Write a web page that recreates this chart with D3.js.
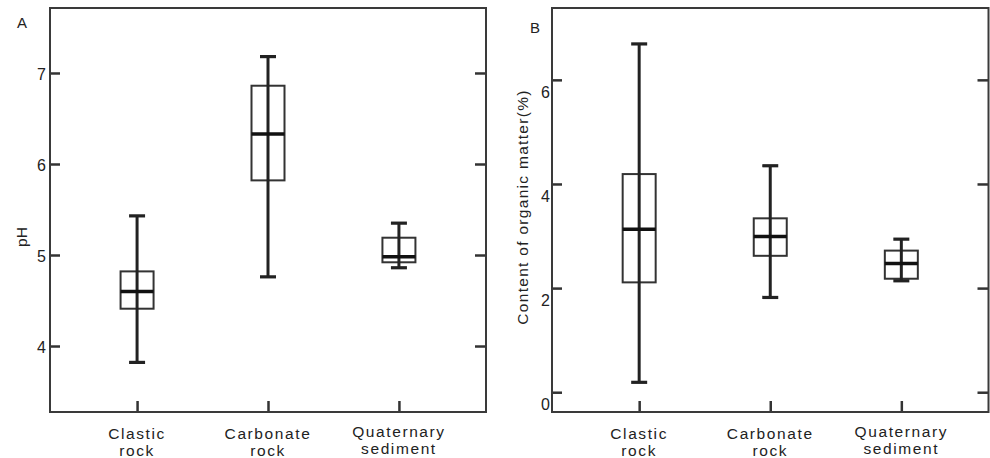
<!DOCTYPE html>
<html>
<head>
<meta charset="utf-8">
<script src="https://cdn.jsdelivr.net/npm/d3@7"></script>
<style>
  html, body { margin: 0; padding: 0; background: #fff; }
  svg { display: block; font-family: "Liberation Sans", Arial, sans-serif; }
</style>
</head>
<body>
<svg id="chart" width="990" height="458"></svg>
<script>
// ---- data ----
const categories = ["Clastic rock", "Carbonate rock", "Quaternary sediment"];
const categoryLines = [["Clastic", "rock"], ["Carbonate", "rock"], ["Quaternary", "sediment"]];

// Panel A: pH
const phMin    = [3.82, 4.76, 4.86];
const phQ1     = [4.41, 5.82, 4.92];
const phMedian = [4.60, 6.33, 4.98];
const phQ3     = [4.82, 6.86, 5.19];
const phMax    = [5.43, 7.18, 5.35];
const phTicks  = [4, 5, 6, 7];

// Panel B: content of organic matter (%)
const omMin    = [0.19, 1.82, 2.14];
const omQ1     = [2.11, 2.62, 2.18];
const omMedian = [3.13, 2.99, 2.47];
const omQ3     = [4.19, 3.34, 2.72];
const omMax    = [6.69, 4.35, 2.94];
const omTicks  = [0, 2, 4, 6];

const svg = d3.select("#chart");
const dark = "#222";

function panel(opt) {
  const g = svg.append("g");
  const x = d3.scalePoint().domain(categories).range([opt.left, opt.right]).padding(0.665);
  const y = d3.scaleLinear().domain(opt.domain).range([opt.bottom, opt.top]);

  const rows = categories.map((c, i) => ({
    c, lines: categoryLines[i],
    min: opt.min[i], q1: opt.q1[i], med: opt.med[i], q3: opt.q3[i], max: opt.max[i]
  }));

  // left axis (ticks inward, labels outside)
  const la = g.append("g").attr("transform", `translate(${opt.left},0)`)
    .call(d3.axisLeft(y).tickValues(opt.ticks).tickSize(-10).tickPadding(opt.labelPad).tickFormat(d3.format("d")));
  la.select(".domain").remove();
  la.selectAll(".tick line").attr("stroke", "#333").attr("stroke-width", 2.5);
  la.selectAll(".tick text").attr("font-size", 16).attr("fill", "#222")
    .attr("font-family", "Liberation Sans, Arial, sans-serif").attr("dy", opt.labelDy);

  // right axis ticks
  const ra = g.append("g").attr("transform", `translate(${opt.right},0)`)
    .call(d3.axisRight(y).tickValues(opt.ticks).tickSize(-11).tickFormat(""));
  ra.select(".domain").remove();
  ra.selectAll(".tick line").attr("stroke", "#333").attr("stroke-width", 2.5);

  // bottom axis ticks
  const ba = g.append("g").attr("transform", `translate(0,${opt.bottom})`)
    .call(d3.axisBottom(x).tickSize(-11).tickFormat(""));
  ba.select(".domain").remove();
  ba.selectAll(".tick line").attr("stroke", "#333").attr("stroke-width", 2.5);

  // category labels
  const lab = g.append("g").selectAll("text").data(rows).join("text")
    .attr("x", d => x(d.c))
    .attr("y", (d, i) => opt.bottom + (i === 2 ? 25 : 27))
    .attr("text-anchor", "middle")
    .attr("font-size", 15.5).attr("letter-spacing", 1.6).attr("fill", "#222");
  lab.selectAll("tspan").data(d => d.lines).join("tspan")
    .attr("x", function () { return d3.select(this.parentNode).attr("x"); })
    .attr("dy", (d, i) => i === 0 ? 0 : 17)
    .text(d => d);

  // frame
  g.append("rect")
    .attr("x", opt.left).attr("y", opt.top)
    .attr("width", opt.right - opt.left).attr("height", opt.bottom - opt.top)
    .attr("fill", "none").attr("stroke", "#3a3a3a").attr("stroke-width", 2);

  const boxW = 33, capW = 16;
  const b = g.append("g").selectAll("g").data(rows).join("g");
  // box
  b.append("rect")
    .attr("x", d => x(d.c) - boxW / 2).attr("width", boxW)
    .attr("y", d => y(d.q3)).attr("height", d => y(d.q1) - y(d.q3))
    .attr("fill", "none").attr("stroke", "#333").attr("stroke-width", 2);
  // whisker
  b.append("line")
    .attr("x1", d => x(d.c)).attr("x2", d => x(d.c))
    .attr("y1", d => y(d.max)).attr("y2", d => y(d.min))
    .attr("stroke", dark).attr("stroke-width", 3);
  // caps
  b.selectAll(".cap").data(d => [d.max, d.min].map(v => ({ c: d.c, v }))).join("line")
    .attr("x1", d => x(d.c) - capW / 2).attr("x2", d => x(d.c) + capW / 2)
    .attr("y1", d => y(d.v)).attr("y2", d => y(d.v))
    .attr("stroke", dark).attr("stroke-width", 3.2);
  // median
  b.append("line")
    .attr("x1", d => x(d.c) - boxW / 2).attr("x2", d => x(d.c) + boxW / 2)
    .attr("y1", d => y(d.med)).attr("y2", d => y(d.med))
    .attr("stroke", "#111").attr("stroke-width", 3.5);

  // y-axis title
  g.append("text")
    .attr("transform", `translate(${opt.titleX},${opt.titleY}) rotate(-90)`)
    .attr("text-anchor", "middle").attr("font-size", 15.5).attr("letter-spacing", opt.titleSpacing)
    .attr("fill", "#222").text(opt.title);

  // panel letter
  g.append("text").attr("x", opt.letterX).attr("y", opt.letterY)
    .attr("text-anchor", "middle").attr("font-size", 15).attr("fill", "#222").text(opt.letter);
}

panel({
  left: 50, right: 486, top: 8, bottom: 412,
  domain: [3.275, 7.714], ticks: phTicks,
  min: phMin, q1: phQ1, med: phMedian, q3: phQ3, max: phMax,
  labelPad: 4, labelDy: "0.4em",
  title: "pH", titleX: 27, titleY: 237, titleSpacing: 0,
  letter: "A", letterX: 22, letterY: 28
});

panel({
  left: 552, right: 988.5, top: 8, bottom: 412,
  domain: [-0.38, 7.38], ticks: omTicks,
  min: omMin, q1: omQ1, med: omMedian, q3: omQ3, max: omMax,
  labelPad: 2, labelDy: "1.1em",
  title: "Content of organic matter(%)", titleX: 528, titleY: 207, titleSpacing: 1.3,
  letter: "B", letterX: 535, letterY: 33
});
</script>
</body>
</html>
